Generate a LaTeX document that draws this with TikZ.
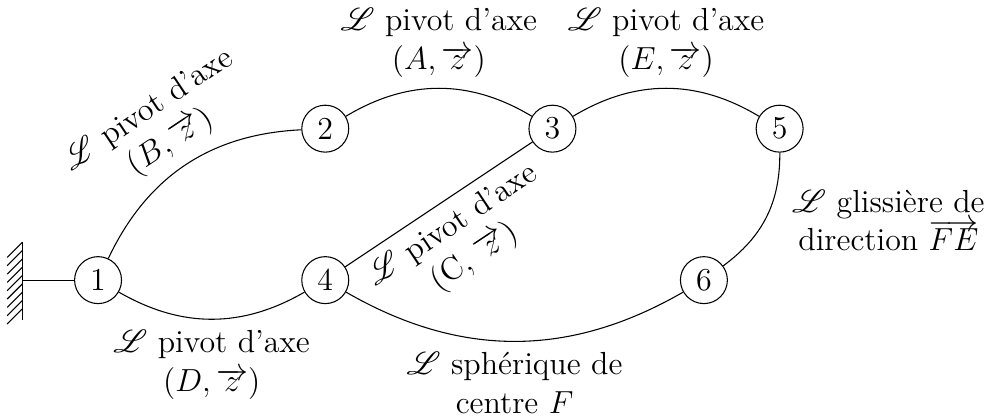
\documentclass[12pt,tikz,border=0pt]{standalone}
\usepackage{fontspec}
\usepackage{mathrsfs}
\begin{document}
\begin{tikzpicture}[
  liaison/.style={circle, draw, inner sep=0pt, minimum size=0.62cm},
  lbl/.style={align=center}]
\useasboundingbox (-1.295,-1.836) rectangle (11.765,3.699);
\node[liaison] (n1) at (0,0) {1};
\node[liaison] (n2) at (3,2) {2};
\node[liaison] (n3) at (6,2) {3};
\node[liaison] (n4) at (3,0) {4};
\node[liaison] (n5) at (9,2) {5};
\node[liaison] (n6) at (8,0) {6};
% bati
\coordinate (g) at (-1,0);
\draw (n1) -- (g);
\draw (-1,-0.52) -- (-1,0.5);
\foreach \y in {0.5,0.39,...,-0.45} \draw (-1,\y) -- ++(-0.2,-0.2);
% liaisons
\draw (n1) to[bend left=31] node[midway,sloped,above,lbl]{$\mathscr{L}$ pivot d'axe\\$(B,\overrightarrow{z})$} (n2);
\draw (n1) to[bend right=30] node[below,lbl]{$\mathscr{L}$ pivot d'axe\\$(D,\overrightarrow{z})$} (n4);
\draw (n2) to[bend left=31] node[above,lbl]{$\mathscr{L}$ pivot d'axe\\$(A,\overrightarrow{z})$} (n3);
\draw (n3) to[bend left=31] node[above,lbl]{$\mathscr{L}$ pivot d'axe\\$(E,\overrightarrow{z})$} (n5);
\draw (n4) -- node[sloped,below,lbl]{$\mathscr{L}$ pivot d'axe\\(C, $\overrightarrow{z}$)} (n3);
\draw (n5) to[bend left=27] node[midway,anchor=west,xshift=0.19cm,yshift=-0.05cm,lbl]{$\mathscr{L}$ glissière de\\direction $\overrightarrow{FE}$} (n6);
\draw (n4) to[bend right=30] node[below,lbl]{$\mathscr{L}$ sphérique de\\centre $F$} (n6);
\end{tikzpicture}
\end{document}
